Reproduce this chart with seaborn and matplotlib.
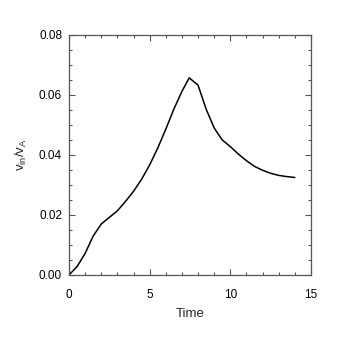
import matplotlib
matplotlib.use("Agg")
import matplotlib.pyplot as plt
from matplotlib.ticker import MultipleLocator, FormatStrFormatter
import seaborn as sns
import pandas as pd

time = [0.0, 0.5, 1.0, 1.5, 2.0, 2.5, 3.0, 3.5, 4.0, 4.5, 5.0, 5.5, 6.0, 6.5,
        7.0, 7.45, 8.0, 8.5, 9.0, 9.5, 10.0, 10.5, 11.0, 11.5, 12.0, 12.5,
        13.0, 13.5, 14.0]
rate = [0.0, 0.0028, 0.0072, 0.0130, 0.0170, 0.0192, 0.0214, 0.0245, 0.0279,
        0.0319, 0.0367, 0.0423, 0.0486, 0.0553, 0.0612, 0.0657, 0.0633, 0.0553,
        0.0490, 0.0450, 0.0428, 0.0403, 0.0381, 0.0362, 0.0349, 0.0339,
        0.0332, 0.0328, 0.0325]

df = pd.DataFrame({"Time": time, "rate": rate})

sns.set_style("ticks")
plt.rcParams["font.family"] = ["Liberation Sans", "DejaVu Sans"]
plt.rcParams["mathtext.default"] = "regular"

fig = plt.figure(figsize=(3.45, 3.45), dpi=100)
ax = fig.add_axes([0.2, 0.2029, 0.7014, 0.6957])
sns.lineplot(data=df, x="Time", y="rate", ax=ax, color="black", linewidth=1.1)

ax.set_xlim(0, 15)
ax.set_ylim(0, 0.08)
ax.xaxis.set_major_locator(MultipleLocator(5))
ax.xaxis.set_minor_locator(MultipleLocator(1))
ax.yaxis.set_major_locator(MultipleLocator(0.02))
ax.yaxis.set_minor_locator(MultipleLocator(0.005))
ax.xaxis.set_major_formatter(FormatStrFormatter("%d"))
ax.yaxis.set_major_formatter(FormatStrFormatter("%.2f"))

for s in ax.spines.values():
    s.set_color("#555555")
    s.set_linewidth(0.9)
    s.set_visible(True)

ax.tick_params(which="both", direction="in", top=True, right=True,
               color="#555555", width=0.8, labelsize=8.5, labelcolor="black")
ax.tick_params(which="major", length=4.5)
ax.tick_params(which="minor", length=2.5)
ax.tick_params(axis="x", which="major", pad=10)
ax.tick_params(axis="y", which="major", pad=5)

ax.set_xlabel("Time", fontsize=9.5, labelpad=5)
ax.set_ylabel(r"v$_{in}$/v$_A$", fontsize=9.5, labelpad=7)

fig.savefig("out.png", dpi=100, facecolor="white")
